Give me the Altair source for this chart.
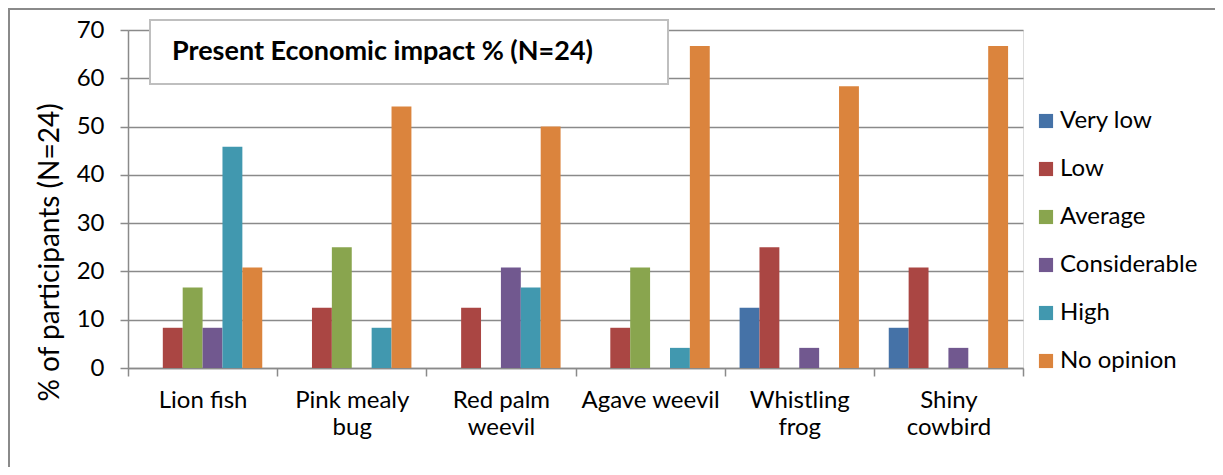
import altair as alt
import pandas as pd

species = ["Lion fish", "Pink mealy bug", "Red palm weevil", "Agave weevil", "Whistling frog", "Shiny cowbird"]
species_lines = [["Lion fish"], ["Pink mealy", "bug"], ["Red palm", "weevil"], ["Agave weevil"], ["Whistling", "frog"], ["Shiny", "cowbird"]]
levels = ["Very low", "Low", "Average", "Considerable", "High", "No opinion"]
colors = ["#4572A7", "#AA4643", "#89A54E", "#71588F", "#4198AF", "#DB843D"]

very_low     = [0, 0, 0, 0, 12.5, 8.33]
low          = [8.33, 12.5, 12.5, 8.33, 25, 20.83]
average      = [16.67, 25, 0, 20.83, 0, 0]
considerable = [8.33, 0, 20.83, 0, 4.17, 4.17]
high         = [45.83, 8.33, 16.67, 4.17, 0, 0]
no_opinion   = [20.83, 54.17, 50, 66.67, 58.33, 66.67]

series = [very_low, low, average, considerable, high, no_opinion]
rows = []
for lev, vals in zip(levels, series):
    for sp, v in zip(species, vals):
        rows.append({"species": sp, "level": lev, "value": v})
df = pd.DataFrame(rows)

title_text = "Present Economic impact % (N=24)"
y_title = "% of participants (N=24)"

# build label expression for multi-line category labels
expr = "datum.label"
for sp, lines in zip(species, species_lines):
    arr = "[" + ",".join("'" + l + "'" for l in lines) + "]"
    expr = f"datum.label == '{sp}' ? {arr} : ({expr})"

FONT = "Lato"
GRID = "#8a8a8a"

bars = alt.Chart(df).mark_bar().encode(
    x=alt.X("species:N", sort=species, title=None,
            scale=alt.Scale(paddingInner=0, paddingOuter=0),
            axis=alt.Axis(labelAngle=0, labelExpr=expr, labelFontSize=24, labelColor="#000",
                          labelPadding=12, labelLineHeight=27, tickBand="extent",
                          tickSize=8, tickColor=GRID, tickWidth=1.5,
                          domainColor=GRID, domainWidth=1.5, grid=False, labelFont=FONT)),
    xOffset=alt.XOffset("level:N", sort=levels,
                        scale=alt.Scale(domain=levels, paddingOuter=0.75, paddingInner=0)),
    y=alt.Y("value:Q", scale=alt.Scale(domain=[0, 70]), title=y_title,
            axis=alt.Axis(values=list(range(0, 80, 10)), labelFontSize=24, labelColor="#000",
                          labelPadding=16, tickSize=8, tickColor=GRID, tickWidth=1.5,
                          domainColor=GRID, domainWidth=1.5, gridColor=GRID, gridWidth=1.5,
                          titleFontSize=28, titleFontWeight="normal", titleColor="#000",
                          titleX=-64, titleY=222, titleFont=FONT, labelFont=FONT)),
    color=alt.Color("level:N", sort=levels,
                    scale=alt.Scale(domain=levels, range=colors),
                    legend=alt.Legend(title=None, orient="none", legendX=906, legendY=79,
                                      symbolType="square", symbolSize=200, symbolStrokeWidth=0,
                                      labelFontSize=24, labelFont=FONT, labelColor="#000",
                                      labelOffset=2, rowPadding=24, labelLimit=300)),
)

box = alt.Chart(pd.DataFrame({"t": [title_text]})).mark_rect(
    fill="white", stroke="#bfbfbf", strokeWidth=2
).encode(x=alt.value(22), x2=alt.value(540), y=alt.value(-10), y2=alt.value(54))

title = alt.Chart(pd.DataFrame({"t": [title_text]})).mark_text(
    align="left", baseline="middle", font=FONT, fontSize=27, fontWeight="bold", color="#000"
).encode(x=alt.value(44), y=alt.value(22), text="t:N")

frame_left = alt.Chart(pd.DataFrame({"t": [0]})).mark_rule(color="#8a8a8a", strokeWidth=2).encode(
    x=alt.value(-119), y=alt.value(-21), y2=alt.value(470))
frame_top = alt.Chart(pd.DataFrame({"t": [0]})).mark_rule(color="#8a8a8a", strokeWidth=2).encode(
    x=alt.value(-120), x2=alt.value(1120), y=alt.value(-21))

chart = alt.layer(bars, box, title, frame_left, frame_top).properties(
    width=895, height=338,
    autosize=alt.AutoSizeParams(type="none"),
    padding={"left": 120, "top": 22, "right": 192, "bottom": 99},
).configure_view(stroke=None).configure(font=FONT)

chart.save("out.html", embed_options={"renderer": "svg", "actions": False})
